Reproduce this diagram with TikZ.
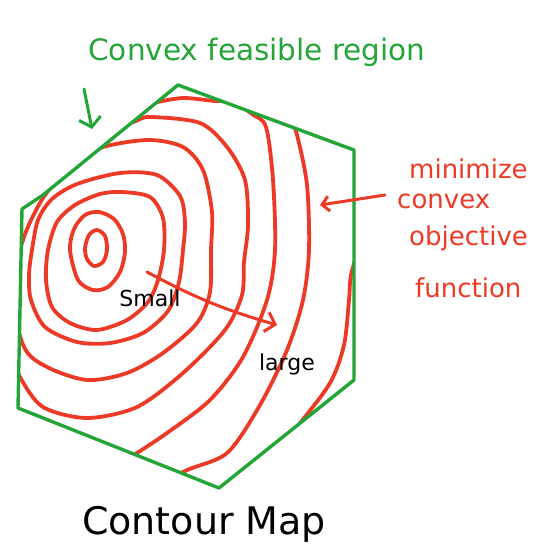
\documentclass[tikz,border=0pt]{standalone}
\usepackage{fontspec}
\setmainfont{DejaVu Sans}
\usepackage{xcolor}
\usepackage{tikz}
\usetikzlibrary{arrows.meta, positioning}

\definecolor{feasgreen}{RGB}{36,165,56}
\definecolor{objred}{RGB}{236,58,38}

\begin{document}
\begin{tikzpicture}[
    x=1pt, y=-1pt,
    region/.style={draw=feasgreen, line width=3.4pt, line join=round, line cap=round},
    contour/.style={draw=objred, line width=3.8pt, line join=round, line cap=round},
    pointer/.style={line width=3pt, line join=round, line cap=round},
    note/.style={anchor=base west, inner sep=0pt, text=objred, font=\fontsize{26}{30}\selectfont},
    tag/.style={anchor=base, inner sep=0pt, font=\fontsize{22}{26}\selectfont}
]
    \useasboundingbox (0,0) rectangle (547,547);

    % Corners of the feasible region
    \coordinate (vtop) at (178,85);
    \coordinate (vur) at (354,150);
    \coordinate (vlr) at (354,380);
    \coordinate (vbot) at (219,488);
    \coordinate (vll) at (18,408);
    \coordinate (vul) at (22,209);
    \coordinate (vhook) at (43,195);

    % Contour lines (clipped to the region)
    \begin{scope}
        \clip (vtop) -- (vur) -- (vlr) -- (vbot) -- (vll) -- (vul) -- (vhook) -- cycle;
        \draw[contour] plot[smooth cycle] coordinates {(85,248) (89,235) (97,230) (105,236) (107,250) (103,262) (94,266) (87,259)};
        \draw[contour] plot[smooth cycle] coordinates {(70,250) (74,229) (85,215) (99,212) (114,219) (123,234) (125,252) (120,272) (108,287) (93,290) (78,280)};
        \draw[contour] plot[smooth cycle] coordinates {(48,250) (57,222) (75,205) (100,194) (122,192) (150,197) (163,218) (164,250) (158,280) (148,302) (127,320) (97,330) (70,323) (52,307) (46,280)};
        \draw[contour] plot[smooth cycle] coordinates {(32,250) (38,220) (52,199) (77,184) (120,173) (157,175) (180,196) (185,222) (183,250) (179,282) (168,311) (143,333) (110,343) (77,342) (45,327) (31,300) (29,275)};
        \draw[contour] plot[smooth cycle] coordinates {(24,237) (45,195) (72,168) (100,148) (148,140) (183,147) (203,170) (212,212) (211,250) (210,292) (197,323) (163,353) (127,373) (87,380) (47,367) (24,347) (12,292)};
        \draw[contour] plot[smooth] coordinates {(90,135) (133,122) (150,117) (200,123) (227,147) (245,180) (248,225) (244,262) (242,295) (225,330) (183,373) (137,407) (87,418) (43,407) (20,377) (5,340)};
        \draw[contour] plot[smooth] coordinates {(95,480) (137,453) (167,433) (210,400) (243,357) (267,300) (275,250) (273,180) (266,127) (252,114) (233,101) (215,101) (183,98) (153,103) (125,110)};
        \draw[contour] plot[smooth] coordinates {(140,500) (183,472) (227,453) (260,405) (287,350) (303,300) (309,250) (307,185) (297,135) (288,110)};
        \draw[contour] plot[smooth] coordinates {(262,470) (297,427) (330,383) (344,345) (349,300) (351,275) (360,245)};
    \end{scope}

    % Feasible region
    \draw[region] (vtop) -- (vur) -- (vlr) -- (vbot) -- (vll) -- (vul) -- (vhook) -- cycle;

    % Region label
    \node[anchor=base, inner sep=0pt, text=feasgreen, font=\fontsize{29.5}{34}\selectfont] (feas) at (257,60) {Convex feasible region};
    \coordinate (feastail) at (84,89);
    \coordinate (feastip) at (92,129);
    \draw[pointer, feasgreen, -{Straight Barb[length=9pt, width=22pt]}] (feastail) -- (feastip);

    % Objective label
    \node[note] (obj1) at (409,178) {minimize};
    \node[note] (obj2) at (397,208) {convex};
    \node[note] (obj3) at (409,245) {objective};
    \node[note] (obj4) at (415,297) {function};
    \coordinate (objtail) at (385,195);
    \coordinate (objtip) at (320,205);
    \draw[pointer, objred, -{Straight Barb[length=7pt, width=15pt]}] (objtail) -- (objtip);

    % Small to large
    \node[tag] (small) at (150,306) {Small};
    \node[tag] (large) at (287,370) {large};
    \coordinate (growtail) at (147,272);
    \coordinate (growtip) at (277,325);
    \draw[pointer, objred, -{Straight Barb[length=9pt, width=20pt]}] (growtail) to[bend right=6] (growtip);

    % Caption
    \node[anchor=base, inner sep=0pt, font=\fontsize{38}{44}\selectfont] (caption) at (204,534) {Contour Map};

\end{tikzpicture}
\end{document}
